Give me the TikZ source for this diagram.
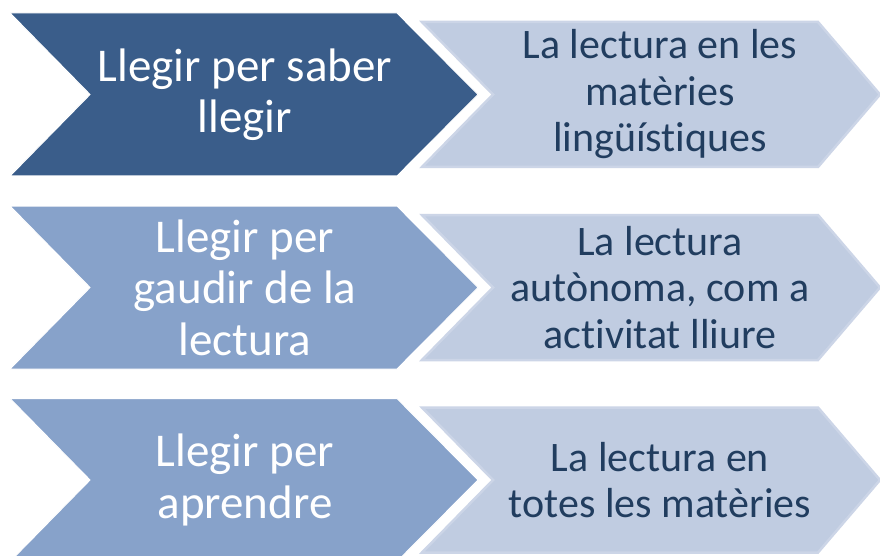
\documentclass[tikz,border=0pt]{standalone}
\usepackage{fontspec}
\setmainfont{Carlito}[Ligatures=CommonOff]
\definecolor{darkblue}{HTML}{3A5D8A}
\definecolor{midblue}{HTML}{87A2CA}
\definecolor{lightblue}{HTML}{C0CCE1}
\definecolor{lightedge}{HTML}{CCD5E7}
\definecolor{textdark}{HTML}{213D5F}
\tikzset{
  leftchev/.style={fill=#1, draw=white, line width=1pt},
  rightchev/.style={fill=lightblue, draw=lightedge, line width=2.5pt, line join=miter},
  lefttext/.style={text=white, align=center, inner sep=0pt, font=\fontsize{47}{51.5}\selectfont},
  righttext/.style={text=textdark, align=center, inner sep=0pt, font=\fontsize{42}{46.5}\selectfont}
}
\begin{document}
\begin{tikzpicture}[x=1pt, y=-1pt]
\useasboundingbox (0,0) rectangle (880,556);
\clip (0,0) rectangle (880,556);
\fill[white] (0,0) rectangle (880,556);
\foreach \c/\col in {94.5/darkblue, 287.5/midblue, 480/midblue}{
  \path[leftchev=\col] (10,\c-81.5) -- (397,\c-81.5) -- (478,\c) -- (397,\c+81.5) -- (10,\c+81.5) -- (90,\c) -- cycle;
  \path[rightchev] (422,\c-72.5) -- (818,\c-72.5) -- (880,\c) -- (818,\c+72.5) -- (422,\c+72.5) -- (493,\c) -- cycle;
}
\node[lefttext] (l1) at (245,94.5) {Llegir per saber\\llegir};
\node[lefttext] (l2) at (245,287.5) {Llegir per\\gaudir de la\\lectura};
\node[lefttext] (l3) at (245,480) {Llegir per\\aprendre};
\node[righttext] (r1) at (660,94.5) {La lectura en les\\matèries\\lingüístiques};
\node[righttext] (r2) at (660,287.5) {La lectura\\autònoma, com a\\activitat lliure};
\node[righttext] (r3) at (660,480) {La lectura en\\totes les matèries};
\end{tikzpicture}
\end{document}
